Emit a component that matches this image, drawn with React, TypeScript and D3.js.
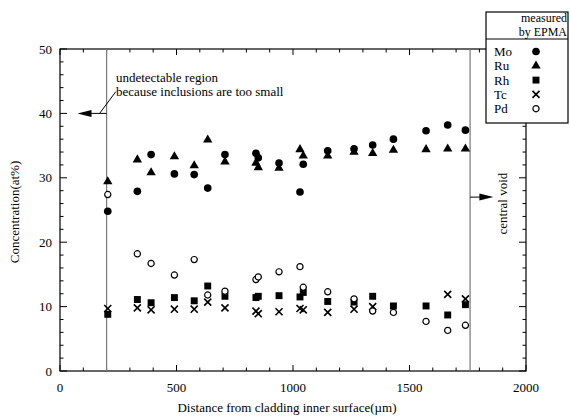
import React from "react";
import * as d3 from "d3";

// Distances (µm) of the measurement points
const distances = [205, 332, 391, 491, 576, 634, 708, 841, 851, 940, 1030, 1044, 1149, 1262, 1342, 1431, 1571, 1664, 1740];

// Concentrations (at%), one entry per distance (null = no point)
const moValues = [24.8, 27.9, 33.6, 30.6, 30.5, 28.4, 33.6, 33.8, 33.1, 32.3, 27.8, 32.1, 34.2, 34.5, 35.1, 36.0, 37.3, 38.2, 37.4];
const ruValues = [29.4, 32.8, 30.8, 33.3, 31.9, 35.9, 32.5, 32.3, 31.6, 31.5, 34.4, 33.4, 33.4, 34.0, 33.8, 34.3, 34.4, 34.5, 34.5];
const rhValues = [8.8, 11.1, 10.6, 11.4, 10.9, 13.2, 11.6, 11.4, 11.6, 11.7, 11.5, 12.2, 10.8, 10.7, 11.6, 10.1, 10.1, 8.7, 10.3];
const tcValues = [9.7, 9.8, 9.5, 9.6, 9.6, 10.7, 9.8, 9.3, 8.9, 9.2, 9.7, 9.5, 9.1, 9.6, 10.0, null, null, 11.9, 11.2];
const pdValues = [27.4, 18.2, 16.7, 14.9, 17.3, 11.8, 12.4, 14.2, 14.6, 15.4, 16.2, 13.0, 12.3, 11.2, 9.3, 9.1, 7.7, 6.3, 7.1];

const elements = ["Mo", "Ru", "Rh", "Tc", "Pd"];
const xTickLabels = [0, 500, 1000, 1500, 2000];
const yTickLabels = [0, 10, 20, 30, 40, 50];

const W = 570;
const H = 420;
const margin = { left: 60, right: 44, top: 49, bottom: 49 };
const font = "'Liberation Serif', 'Times New Roman', serif";

const x = d3.scaleLinear().domain([0, 2000]).range([margin.left, W - margin.right]);
const y = d3.scaleLinear().domain([0, 50]).range([H - margin.bottom, margin.top]);

const symbolPath = (name: string, size: number) => {
  const t =
    name === "Mo" ? d3.symbolCircle :
    name === "Ru" ? d3.symbolTriangle :
    name === "Rh" ? d3.symbolSquare :
    name === "Tc" ? d3.symbolTimes : d3.symbolCircle;
  return d3.symbol().type(t).size(size)() as string;
};

const styleFor = (name: string) => {
  if (name === "Tc") return { fill: "none", stroke: "#000", strokeWidth: 1.6, size: 34 };
  if (name === "Pd") return { fill: "#fff", stroke: "#000", strokeWidth: 1.2, size: 30 };
  if (name === "Ru") return { fill: "#000", stroke: "none", strokeWidth: 0, size: 38 };
  if (name === "Rh") return { fill: "#000", stroke: "none", strokeWidth: 0, size: 48 };
  return { fill: "#000", stroke: "none", strokeWidth: 0, size: 46 };
};

const Marker = ({ name, cx, cy }: { name: string; cx: number; cy: number }) => {
  const s = styleFor(name);
  return (
    <path
      d={symbolPath(name, s.size)}
      transform={`translate(${cx},${cy})`}
      fill={s.fill}
      stroke={s.stroke}
      strokeWidth={s.strokeWidth}
    />
  );
};

export default function App() {
  const series: [string, (number | null)[]][] = [
    ["Mo", moValues],
    ["Ru", ruValues],
    ["Rh", rhValues],
    ["Tc", tcValues],
    ["Pd", pdValues],
  ];

  const minorX = d3.range(0, 2001, 100);
  const minorY = d3.range(0, 51, 2);
  const x0 = x(0), x1 = x(2000), y0 = y(0), y1 = y(50);

  // Legend box
  const lg = { left: 486, top: 12, right: 568, bottom: 123, split: 39 };

  return (
    <svg width={W} height={H} style={{ position: "absolute", left: 0, top: 0 }} fontFamily={font}>
      <rect width={W} height={H} fill="#fff" />

      {/* frame */}
      <rect x={x0} y={y1} width={x1 - x0} height={y0 - y1} fill="none" stroke="#000" strokeWidth={1.2} />

      {/* ticks, all pointing inside */}
      {minorX.map((v) => {
        const len = v % 500 === 0 ? 6 : 3.5;
        return (
          <g key={"tx" + v} stroke="#000" strokeWidth={1}>
            <line x1={x(v)} x2={x(v)} y1={y0} y2={y0 - len} />
            <line x1={x(v)} x2={x(v)} y1={y1} y2={y1 + len} />
          </g>
        );
      })}
      {minorY.map((v) => {
        const len = v % 10 === 0 ? 7 : 3.5;
        return (
          <g key={"ty" + v} stroke="#000" strokeWidth={1}>
            <line x1={x0} x2={x0 + len} y1={y(v)} y2={y(v)} />
            <line x1={x1} x2={x1 - len} y1={y(v)} y2={y(v)} />
          </g>
        );
      })}

      {/* tick labels */}
      {xTickLabels.map((v) => (
        <text key={"lx" + v} x={x(v)} y={y0 + 21} textAnchor="middle" fontSize={13}>
          {v}
        </text>
      ))}
      {yTickLabels.map((v) => (
        <text key={"ly" + v} x={x0 - 8} y={y(v) + 4.5} textAnchor="end" fontSize={13}>
          {v}
        </text>
      ))}

      {/* axis titles */}
      <text x={(x0 + x1) / 2 - 6} y={H - 8} textAnchor="middle" fontSize={13}>
        Distance from cladding inner surface(µm)
      </text>
      <text transform={`translate(19,${(y0 + y1) / 2 + 2}) rotate(-90)`} textAnchor="middle" fontSize={13}>
        Concentration(at%)
      </text>

      {/* region boundaries */}
      <line x1={x(200)} x2={x(200)} y1={y1} y2={y0} stroke="#777" strokeWidth={1.2} />
      <line x1={x(1760)} x2={x(1760)} y1={y1} y2={y0} stroke="#777" strokeWidth={1.2} />

      {/* left annotation */}
      <line x1={x(200)} x2={x(100)} y1={y(40)} y2={y(40)} stroke="#000" strokeWidth={1} />
      <path d={`M${x(75)},${y(40)} L${x(75) + 14},${y(40) - 3.5} L${x(75) + 14},${y(40) + 3.5} Z`} fill="#000" />
      <line x1={x(170)} y1={y(40)} x2={x(240)} y2={y(43.4)} stroke="#000" strokeWidth={1} />
      <text x={x(240)} y={y(45.5) + 4.5} fontSize={13}>undetectable region</text>
      <text x={x(240)} y={y(43.4) + 4.5} fontSize={13}>because inclusions are too small</text>

      {/* right annotation */}
      <line x1={x(1760)} x2={x(1830)} y1={y(27)} y2={y(27)} stroke="#000" strokeWidth={1} />
      <path d={`M${x(1860)},${y(27)} L${x(1860) - 14},${y(27) - 3.5} L${x(1860) - 14},${y(27) + 3.5} Z`} fill="#000" />
      <text transform={`translate(${x(1900) + 4},${y(26)}) rotate(-90)`} textAnchor="middle" fontSize={13}>
        central void
      </text>

      {/* data */}
      {series.map(([name, vals]) =>
        vals.map((v, i) =>
          v == null ? null : <Marker key={name + i} name={name} cx={x(distances[i])} cy={y(v)} />
        )
      )}

      {/* legend */}
      <rect x={lg.left} y={lg.top} width={lg.right - lg.left} height={lg.bottom - lg.top} fill="#fff" stroke="#000" strokeWidth={1.2} />
      <line x1={lg.left} x2={lg.right} y1={lg.split} y2={lg.split} stroke="#000" strokeWidth={1} />
      <text x={lg.right - 1} y={22} textAnchor="end" fontSize={12}>measured</text>
      <text x={lg.right - 1} y={35.5} textAnchor="end" fontSize={12}>by EPMA</text>
      {elements.map((name, i) => (
        <g key={"lg" + name}>
          <text x={494} y={56 + i * 14.3} fontSize={13}>{name}</text>
          <Marker name={name} cx={536} cy={51.5 + i * 14.3} />
        </g>
      ))}
    </svg>
  );
}
